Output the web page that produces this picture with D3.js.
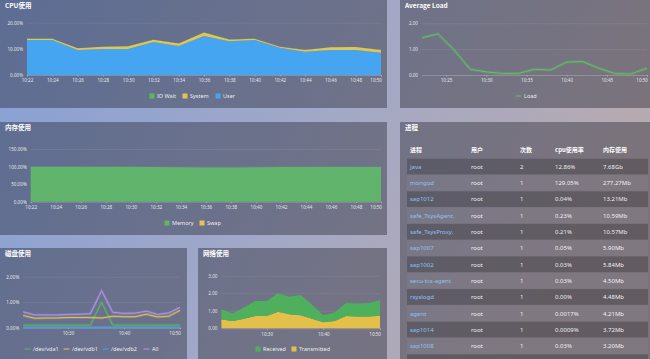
<!DOCTYPE html>
<html><head><meta charset="utf-8">
<script src="https://cdn.jsdelivr.net/npm/d3@7"></script>
<style>
html,body{margin:0;padding:0;width:650px;height:359px;overflow:hidden;background:#9aa5c8;}
svg{display:block;font-family:"Noto Sans CJK SC","Noto Sans",sans-serif;}
</style></head><body><svg id="c" width="650" height="359"></svg>
<script>
// ---------- data ----------
const times = ["10:22","10:24","10:26","10:28","10:30","10:32","10:34","10:36","10:38","10:40","10:42","10:44","10:46","10:48","10:50"];
const cpuUser   = [13.4,13.4,9.6,9.9,9.9,12.6,11.1,14.9,12.9,13.4,10.4,8.9,9.6,9.6,8.5];
const cpuSystem = [0.5,0.5,0.6,0.9,1.1,0.9,0.9,1.4,0.7,0.5,0.4,0.7,1.0,1.1,1.1];
const cpuIoWait = [0.05,0.05,0.05,0.05,0.05,0.05,0.05,0.05,0.05,0.05,0.05,0.05,0.05,0.05,0.05];
const loadAvg   = [1.44,1.59,0.97,0.22,0.12,0.06,0.06,0.22,0.19,0.5,0.52,0.26,0.06,0.04,0.26];
const memUsed   = [99.6,99.6,99.5,99.4,99.3,99.0,98.4,97.4,97.6,98.3,98.6,98.7,98.8,98.8,98.9];
const swapUsed  = [0,0,0,0,0,0,0,0,0,0,0,0,0,0,0];
const diskVda1  = [0.1,0.1,0.1,0.1,0.1,0.1,0.1,1.0,0.1,0.1,0.1,0.1,0.1,0.1,0.1];
const diskVdb1  = [0.48,0.37,0.38,0.38,0.4,0.4,0.4,0.38,0.45,0.43,0.43,0.53,0.42,0.45,0.68];
const diskVdb2  = [0.02,0.02,0.02,0.02,0.02,0.02,0.02,0.02,0.02,0.02,0.02,0.02,0.02,0.02,0.02];
const diskAll   = [0.62,0.5,0.5,0.5,0.52,0.53,0.55,1.45,0.6,0.56,0.57,0.65,0.52,0.58,0.8];
const netReceived    = [0.59,0.43,0.65,0.85,0.85,1.05,1.0,1.15,0.8,0.4,0.48,0.75,0.74,0.77,0.88];
const netTransmitted = [0.5,0.42,0.55,0.7,0.7,0.95,0.8,0.75,0.55,0.35,0.42,0.7,0.68,0.68,0.72];

const cpuTicks  = times;
const loadTicks = ["10:25","10:30","10:35","10:40","10:45","10:50"];
const diskTicks = ["10:30","10:40","10:50"];
const cpuYTicks = [0,10,20];
const loadYTicks = [0,1,2];
const memYTicks = [0,50,100,150];
const diskYTicks = [0,1,2];
const netYTicks = [0,1,2,3];

const procHeaders = ["进程","用户","次数","cpu使用率","内存使用"];
const procName  = ["java","mongod","sap1012","safe_TsysAgent.","safe_TsysProxy.","sap1007","sap1002","secu-tcs-agent","rsyslogd","agent","sap1014","sap1008"];
const procUser  = ["root","root","root","root","root","root","root","root","root","root","root","root"];
const procCount = ["2","1","1","1","1","1","1","1","1","1","1","1"];
const procCpu   = ["12.86%","129.05%","0.04%","0.23%","0.21%","0.05%","0.03%","0.03%","0.00%","0.0017%","0.0009%","0.03%"];
const procMem   = ["7.68Gb","277.27Mb","13.21Mb","10.59Mb","10.57Mb","5.90Mb","5.84Mb","4.50Mb","4.48Mb","4.21Mb","3.72Mb","3.20Mb"];

// ---------- helpers ----------
const toMin = s => { const [h,m] = s.split(":").map(Number); return h*60+m - (10*60+22); };
const svg = d3.select("#c");
const defs = svg.append("defs");
const bg = defs.append("linearGradient").attr("id","bg").attr("x1","0").attr("y1","0").attr("x2","1").attr("y2","0.3");
bg.append("stop").attr("offset","0").attr("stop-color","#86a0d6");
bg.append("stop").attr("offset","0.55").attr("stop-color","#a2a8c6");
bg.append("stop").attr("offset","1").attr("stop-color","#b6aab0");
svg.append("rect").attr("width",650).attr("height",359).attr("fill","url(#bg)");

const C = {blue:"#46a5f0", yellow:"#e3c552", green:"#5cb85c", purple:"#b596ee"};

function panel(x,y,w,h,t){
  svg.append("rect").attr("x",x).attr("y",y).attr("width",w).attr("height",h).attr("fill","rgba(20,20,30,0.36)");
  svg.append("text").attr("x",x+5).attr("y",y+8).attr("fill","#fff").attr("font-size",6.5).attr("font-weight","bold").text(t);
}

function axes(x, y, yTicks, yFmt, xTicks, lastEnd){
  const [x0,x1] = x.range(), y0 = y.range()[0];
  const gy = svg.append("g").attr("transform",`translate(${x0},0)`)
    .call(d3.axisLeft(y).tickValues(yTicks).tickFormat(yFmt).tickSize(-(x1-x0)).tickPadding(4));
  gy.select(".domain").remove();
  gy.selectAll("line").attr("stroke","rgba(255,255,255,0.13)").attr("stroke-width",0.6);
  gy.selectAll("text").attr("fill","rgba(255,255,255,0.85)").attr("font-size",4.6).attr("font-family","'Noto Sans',sans-serif");
  const gx = svg.append("g").attr("transform",`translate(0,${y0})`)
    .call(d3.axisBottom(x).tickValues(xTicks.map(toMin)).tickFormat((d,i)=>xTicks[i]).tickSize(1.5).tickPadding(2.5));
  gx.select(".domain").attr("stroke","rgba(255,255,255,0.25)").attr("stroke-width",0.6);
  gx.selectAll("line").attr("stroke","rgba(255,255,255,0.5)").attr("stroke-width",0.6);
  gx.selectAll("text").attr("fill","rgba(255,255,255,0.85)").attr("font-size",4.6).attr("font-family","'Noto Sans',sans-serif");
  if(lastEnd){
    const n = xTicks.length;
    gx.selectAll(".tick").filter((d,i)=>i===n-1).select("text").attr("text-anchor","end").attr("x", x1 - x(toMin(xTicks[n-1])) + 0.5);
  }
}

function legend(items, y){
  items.forEach(it=>{
    if(it.type==="line"){
      svg.append("line").attr("x1",it.x-3.5).attr("x2",it.x+2.5).attr("y1",y).attr("y2",y).attr("stroke",it.color).attr("stroke-width",1);
    } else {
      svg.append("rect").attr("x",it.x-2.5).attr("y",y-2.5).attr("width",5).attr("height",5).attr("fill",it.color);
    }
    svg.append("text").attr("x",it.x+5).attr("y",y+2).attr("fill","rgba(255,255,255,0.9)").attr("font-size",5.5).attr("font-family","'Noto Sans',sans-serif").text(it.label);
  });
}

const mins = times.map(toMin);

// ---------- panels ----------
panel(0,0,387,108,"CPU使用");
panel(400,0,250,108,"Average Load");
panel(0,122,387,113,"内存使用");
panel(400,122,250,237,"进程");
panel(0,248,187,111,"磁盘使用");
panel(198,248,189,111,"网络使用");

// ---------- CPU ----------
{
  const x = d3.scaleLinear().domain([0,28]).range([27,381]);
  const y = d3.scaleLinear().domain([0,20]).range([75,22.7]);
  axes(x,y,cpuYTicks,d=>d.toFixed(2)+"%",cpuTicks,true);
  const rows = mins.map((m,i)=>({m, user:cpuUser[i], system:cpuSystem[i], io:cpuIoWait[i]}));
  const st = d3.stack().keys(["user","system","io"])(rows);
  const cols = {user:C.blue, system:C.yellow, io:C.green};
  const area = d3.area().x(d=>x(d.data.m)).y0(d=>y(d[0])).y1(d=>y(d[1]));
  st.forEach(s=>svg.append("path").datum(s).attr("d",area).attr("fill",cols[s.key]));
  legend([{x:152,label:"IO Wait",color:C.green},{x:185,label:"System",color:C.yellow},{x:218,label:"User",color:C.blue}],96);
}

// ---------- Load ----------
{
  const x = d3.scaleLinear().domain([0,28]).range([422,647]);
  const y = d3.scaleLinear().domain([0,2]).range([75,23.3]);
  axes(x,y,loadYTicks,d=>d.toFixed(2),loadTicks,true);
  const line = d3.line().x((d,i)=>x(mins[i])).y(d=>y(d));
  svg.append("path").datum(loadAvg).attr("d",line).attr("fill","none").attr("stroke","rgba(92,184,92,0.35)").attr("stroke-width",3);
  svg.append("path").datum(loadAvg).attr("d",line).attr("fill","none").attr("stroke","#62bf6a").attr("stroke-width",1);
  legend([{x:519,label:"Load",color:"#62bf6a",type:"line"}],96);
}

// ---------- Memory ----------
{
  const x = d3.scaleLinear().domain([0,28]).range([30.7,381]);
  const y = d3.scaleLinear().domain([0,150]).range([201.7,149]);
  axes(x,y,memYTicks,d=>d.toFixed(2)+"%",cpuTicks,true);
  const rows = mins.map((m,i)=>({m, mem:memUsed[i], swap:swapUsed[i]}));
  const st = d3.stack().keys(["mem","swap"])(rows);
  const area = d3.area().x(d=>x(d.data.m)).y0(d=>y(d[0])).y1(d=>y(d[1]));
  svg.append("path").datum(st[0]).attr("d",area).attr("fill","#60b46c");
  svg.append("path").datum(st[1]).attr("d",area).attr("fill",C.yellow);
  legend([{x:167,label:"Memory",color:"#60b46c"},{x:202,label:"Swap",color:C.yellow}],223);
}

// ---------- Disk ----------
{
  const x = d3.scaleLinear().domain([0,28]).range([23.2,180]);
  const y = d3.scaleLinear().domain([0,2]).range([327.7,276.7]);
  axes(x,y,diskYTicks,d=>d.toFixed(2)+"%",diskTicks,true);
  const line = d3.line().x((d,i)=>x(mins[i])).y(d=>y(d));
  const series = [[diskVdb2,C.blue],[diskVda1,C.green],[diskVdb1,C.yellow],[diskAll,C.purple]];
  series.forEach(([s,c])=>{
    svg.append("path").datum(s).attr("d",line).attr("fill","none").attr("stroke",c).attr("stroke-opacity",0.3).attr("stroke-width",2.6);
    svg.append("path").datum(s).attr("d",line).attr("fill","none").attr("stroke",c).attr("stroke-width",0.9);
  });
  legend([{x:28,label:"/dev/vda1",color:C.green,type:"line"},{x:67,label:"/dev/vdb1",color:C.yellow,type:"line"},{x:106,label:"/dev/vdb2",color:C.blue,type:"line"},{x:147,label:"All",color:C.purple,type:"line"}],349);
}

// ---------- Network ----------
{
  const x = d3.scaleLinear().domain([0,28]).range([221.4,380]);
  const y = d3.scaleLinear().domain([0,3]).range([328.3,275.7]);
  axes(x,y,netYTicks,d=>d.toFixed(2),diskTicks,true);
  const rows = mins.map((m,i)=>({m, tx:netTransmitted[i], rx:netReceived[i]}));
  const st = d3.stack().keys(["tx","rx"])(rows);
  const area = d3.area().x(d=>x(d.data.m)).y0(d=>y(d[0])).y1(d=>y(d[1]));
  svg.append("path").datum(st[0]).attr("d",area).attr("fill","#e2c04a");
  svg.append("path").datum(st[1]).attr("d",area).attr("fill","#4eb05c");
  legend([{x:258,label:"Received",color:"#4eb05c"},{x:294,label:"Transmitted",color:"#e2c04a"}],349);
}

// ---------- Process table ----------
{
  const colX = [410,471,520,555,603];
  const rowH = 16.3, top0 = 158.7;
  const g = svg.append("g").attr("font-family","'Noto Sans','Noto Sans CJK SC',sans-serif").attr("font-size",6);
  procHeaders.forEach((h,i)=>g.append("text").attr("x",colX[i]).attr("y",152.2).attr("fill","#fff").attr("font-weight","bold").attr("font-family","'Noto Sans CJK SC',sans-serif").text(h));
  const rows = procName.map((n,i)=>[n,procUser[i],procCount[i],procCpu[i],procMem[i]]);
  const band = d3.scaleBand().domain(d3.range(rows.length+1)).range([top0, top0+rowH*(rows.length+1)]);
  d3.range(rows.length+1).forEach(i=>{
    g.append("rect").attr("x",407).attr("y",band(i)).attr("width",241).attr("height",rowH-0.6)
      .attr("fill", i%2===0 ? "rgba(0,0,0,0.2)" : "rgba(255,255,255,0.04)");
  });
  rows.forEach((r,i)=>{
    r.forEach((v,j)=>{
      g.append("text").attr("x",colX[j]).attr("y",band(i)+rowH/2+2).attr("fill", j===0 ? "#8fc3f2" : "rgba(255,255,255,0.92)").text(v);
    });
  });
}
</script></body></html>
